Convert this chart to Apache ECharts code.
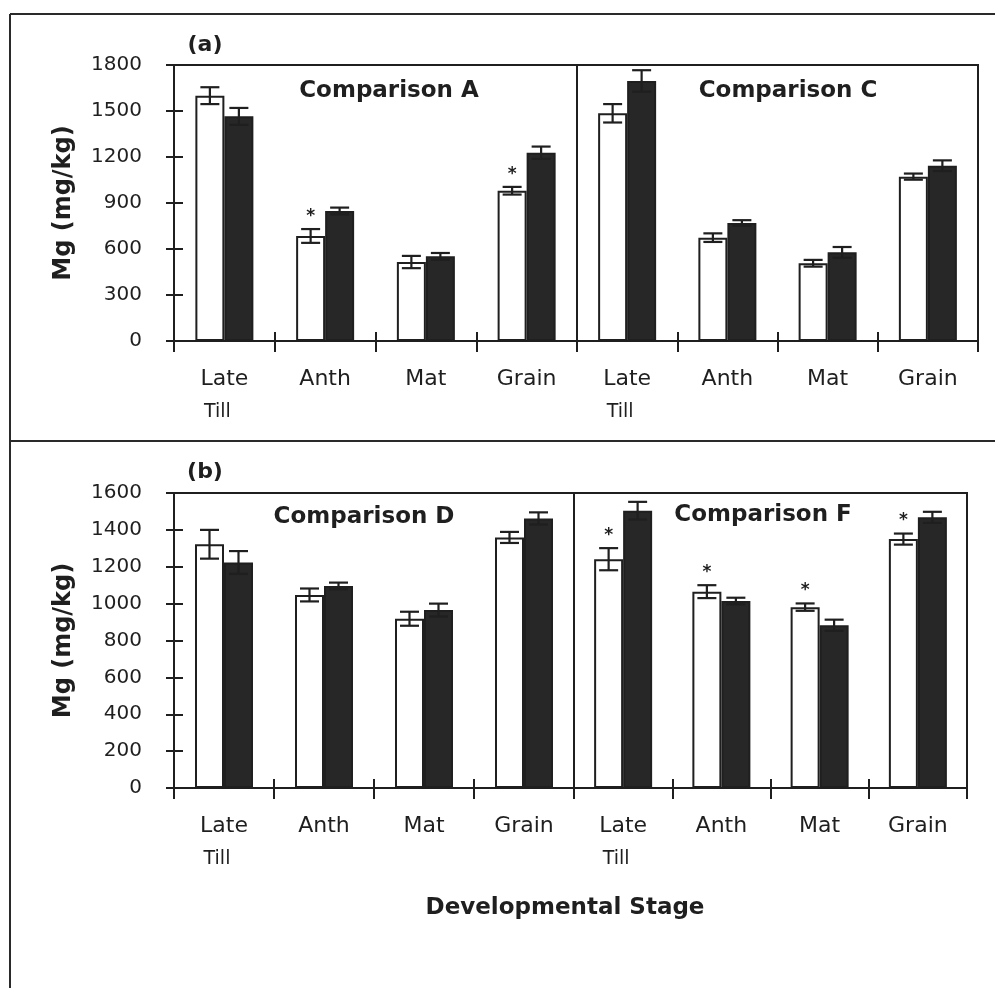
<!DOCTYPE html>
<html>
<head>
<meta charset="utf-8">
<title>Mg (mg/kg) by developmental stage</title>
<script src="https://cdn.jsdelivr.net/npm/echarts@6/dist/echarts.min.js"></script>
<style>
  html, body { margin: 0; padding: 0; background: #fff; }
  #chart { width: 995px; height: 988px; }
</style>
</head>
<body>
<div id="chart"></div>
<script>
// Developmental stages on the category axis
const stages = ['Late Till', 'Anth', 'Mat', 'Grain'];

// Y-axis tick labels for the two rows of panels
const yTicksTop = [0, 300, 600, 900, 1200, 1500, 1800];
const yTicksBottom = [0, 200, 400, 600, 800, 1000, 1200, 1400, 1600];

// Comparison A (row a, left)
const compAOpen = [1600, 685, 515, 980];
const compAOpenErr = [55, 45, 40, 25];
const compAShaded = [1465, 848, 552, 1228];
const compAShadedErr = [55, 22, 22, 40];
const compASig = [0, 1, 0, 1];

// Comparison C (row a, right)
const compCOpen = [1485, 674, 507, 1072];
const compCOpenErr = [60, 28, 22, 20];
const compCShaded = [1696, 770, 578, 1143];
const compCShadedErr = [70, 18, 35, 35];
const compCSig = [0, 0, 0, 0];

// Comparison D (row b, left)
const compDOpen = [1322, 1047, 918, 1359];
const compDOpenErr = [78, 35, 38, 30];
const compDShaded = [1223, 1096, 965, 1462];
const compDShadedErr = [62, 18, 35, 33];
const compDSig = [0, 0, 0, 0];

// Comparison F (row b, right)
const compFOpen = [1241, 1065, 981, 1350];
const compFOpenErr = [60, 35, 20, 30];
const compFShaded = [1504, 1014, 883, 1468];
const compFShadedErr = [48, 18, 30, 30];
const compFSig = [1, 1, 1, 1];

const INK = '#1f1f1f';
const FILL = '#272727';
const FONT = 'DejaVu Sans';
const BAR_W = 29;

const panels = [
  { rect: { left: 174, top: 65, width: 403, height: 276 }, ticks: yTicksTop, showY: true,
    open: compAOpen, openErr: compAOpenErr, shaded: compAShaded, shadedErr: compAShadedErr, sig: compASig },
  { rect: { left: 577, top: 65, width: 401, height: 276 }, ticks: yTicksTop, showY: false,
    open: compCOpen, openErr: compCOpenErr, shaded: compCShaded, shadedErr: compCShadedErr, sig: compCSig },
  { rect: { left: 174, top: 493, width: 400, height: 295 }, ticks: yTicksBottom, showY: true,
    open: compDOpen, openErr: compDOpenErr, shaded: compDShaded, shadedErr: compDShadedErr, sig: compDSig },
  { rect: { left: 574, top: 493, width: 393, height: 295 }, ticks: yTicksBottom, showY: false,
    open: compFOpen, openErr: compFOpenErr, shaded: compFShaded, shadedErr: compFShadedErr, sig: compFSig }
];

function stageLabel(v) {
  const words = v.split(' ');
  let s = '{a|' + words[0] + '}';
  if (words.length > 1) s += '\n{b|' + words.slice(1).join(' ') + '}';
  return s;
}

// Error bars (and significance asterisks) centred over each bar of a pair
function renderErrorBar(params, api) {
  const idx = api.value(0);
  const val = api.value(1);
  const err = api.value(2);
  const side = api.value(3);
  const sig = api.value(4);
  const x = api.coord([idx, val])[0] + side * BAR_W / 2;
  const yTop = api.coord([idx, val + err])[1];
  const yBot = api.coord([idx, val - err])[1];
  const cap = 9.5;
  const style = { stroke: INK, lineWidth: 2.2 };
  const children = [
    { type: 'line', shape: { x1: x, y1: yTop, x2: x, y2: yBot }, style: style },
    { type: 'line', shape: { x1: x - cap, y1: yTop, x2: x + cap, y2: yTop }, style: style },
    { type: 'line', shape: { x1: x - cap, y1: yBot, x2: x + cap, y2: yBot }, style: style }
  ];
  if (sig) {
    children.push({
      type: 'text',
      style: { x: x, y: yTop - 4, text: '*', fill: INK, font: 'bold 17px ' + FONT,
               align: 'center', verticalAlign: 'bottom' }
    });
  }
  return { type: 'group', children: children };
}

const grid = [], xAxis = [], yAxis = [], series = [];

panels.forEach((p, g) => {
  grid.push(Object.assign({ show: true, borderColor: INK, borderWidth: 2, backgroundColor: 'transparent' }, p.rect));

  const yMin = p.ticks[0];
  const yMax = p.ticks[p.ticks.length - 1];
  const yStep = p.ticks[1] - p.ticks[0];

  // Category axis with outward ticks and labels
  xAxis.push({
    type: 'category', gridIndex: g, position: 'bottom', data: stages,
    axisLine: { show: true, lineStyle: { color: INK, width: 2 } },
    axisTick: { show: true, length: 11, lineStyle: { color: INK, width: 2 } },
    axisLabel: {
      margin: 22, formatter: stageLabel,
      rich: {
        a: { fontFamily: FONT, fontSize: 22, lineHeight: 33, color: INK },
        b: { fontFamily: FONT, fontSize: 19, lineHeight: 33, color: INK, padding: [0, 14, 0, 0] }
      }
    }
  });
  // Companion axis carrying the inward half of each tick
  xAxis.push({
    type: 'category', gridIndex: g, position: 'bottom', data: stages,
    axisLine: { show: false },
    axisTick: { show: true, inside: true, length: 9, lineStyle: { color: INK, width: 2 } },
    axisLabel: { show: false }
  });

  yAxis.push({
    type: 'value', gridIndex: g, position: 'left', min: yMin, max: yMax, interval: yStep,
    name: p.showY ? 'Mg (mg/kg)' : '',
    nameLocation: 'middle', nameRotate: 90, nameGap: 98,
    nameTextStyle: { fontFamily: FONT, fontWeight: 'bold', fontSize: 24, color: INK },
    axisLine: { show: true, lineStyle: { color: INK, width: 2 } },
    axisTick: { show: p.showY, length: 8, lineStyle: { color: INK, width: 2 } },
    axisLabel: { show: p.showY, margin: 32, fontFamily: FONT, fontSize: 20, color: INK,
                 formatter: v => String(v) },
    splitLine: { show: false }
  });
  yAxis.push({
    type: 'value', gridIndex: g, position: 'left', min: yMin, max: yMax, interval: yStep,
    axisLine: { show: false },
    axisTick: { show: p.showY, inside: true, length: 9, lineStyle: { color: INK, width: 2 } },
    axisLabel: { show: false },
    splitLine: { show: false }
  });

  series.push({
    type: 'bar', xAxisIndex: 2 * g, yAxisIndex: 2 * g, data: p.open,
    barWidth: BAR_W, barGap: '0%',
    itemStyle: { color: '#fff', borderColor: INK, borderWidth: 2 },
    silent: true, z: 2
  });
  series.push({
    type: 'bar', xAxisIndex: 2 * g, yAxisIndex: 2 * g, data: p.shaded,
    barWidth: BAR_W, barGap: '0%',
    itemStyle: { color: FILL, borderColor: INK, borderWidth: 2 },
    silent: true, z: 2
  });

  const errData = [];
  stages.forEach((s, i) => {
    errData.push([i, p.open[i], p.openErr[i], -1, p.sig[i]]);
    errData.push([i, p.shaded[i], p.shadedErr[i], 1, 0]);
  });
  series.push({
    type: 'custom', xAxisIndex: 2 * g, yAxisIndex: 2 * g,
    data: errData, encode: { x: 0, y: 1 },
    renderItem: renderErrorBar, silent: true, z: 5, clip: false
  });
});

function label(text, x, y, size) {
  return {
    type: 'text', x: x, y: y, silent: true,
    style: { text: text, fill: INK, font: 'bold ' + size + 'px ' + FONT, align: 'center', verticalAlign: 'middle' }
  };
}

const frameStyle = { stroke: '#2a2a2a', lineWidth: 2 };

const option = {
  animation: false,
  backgroundColor: '#fff',
  grid: grid,
  xAxis: xAxis,
  yAxis: yAxis,
  series: series,
  graphic: [
    { type: 'line', shape: { x1: 10, y1: 14, x2: 995, y2: 14 }, style: frameStyle, silent: true },
    { type: 'line', shape: { x1: 10, y1: 14, x2: 10, y2: 988 }, style: frameStyle, silent: true },
    { type: 'line', shape: { x1: 10, y1: 441, x2: 995, y2: 441 }, style: frameStyle, silent: true },
    label('(a)', 205, 45, 22),
    label('(b)', 205, 472, 22),
    label('Comparison A', 389, 91, 23),
    label('Comparison C', 788, 91, 23),
    label('Comparison D', 364, 517, 23),
    label('Comparison F', 763, 515, 23),
    label('Developmental Stage', 565, 908, 23)
  ]
};

const chart = echarts.init(document.getElementById('chart'), null, { renderer: 'canvas' });
chart.setOption(option);
</script>
</body>
</html>
